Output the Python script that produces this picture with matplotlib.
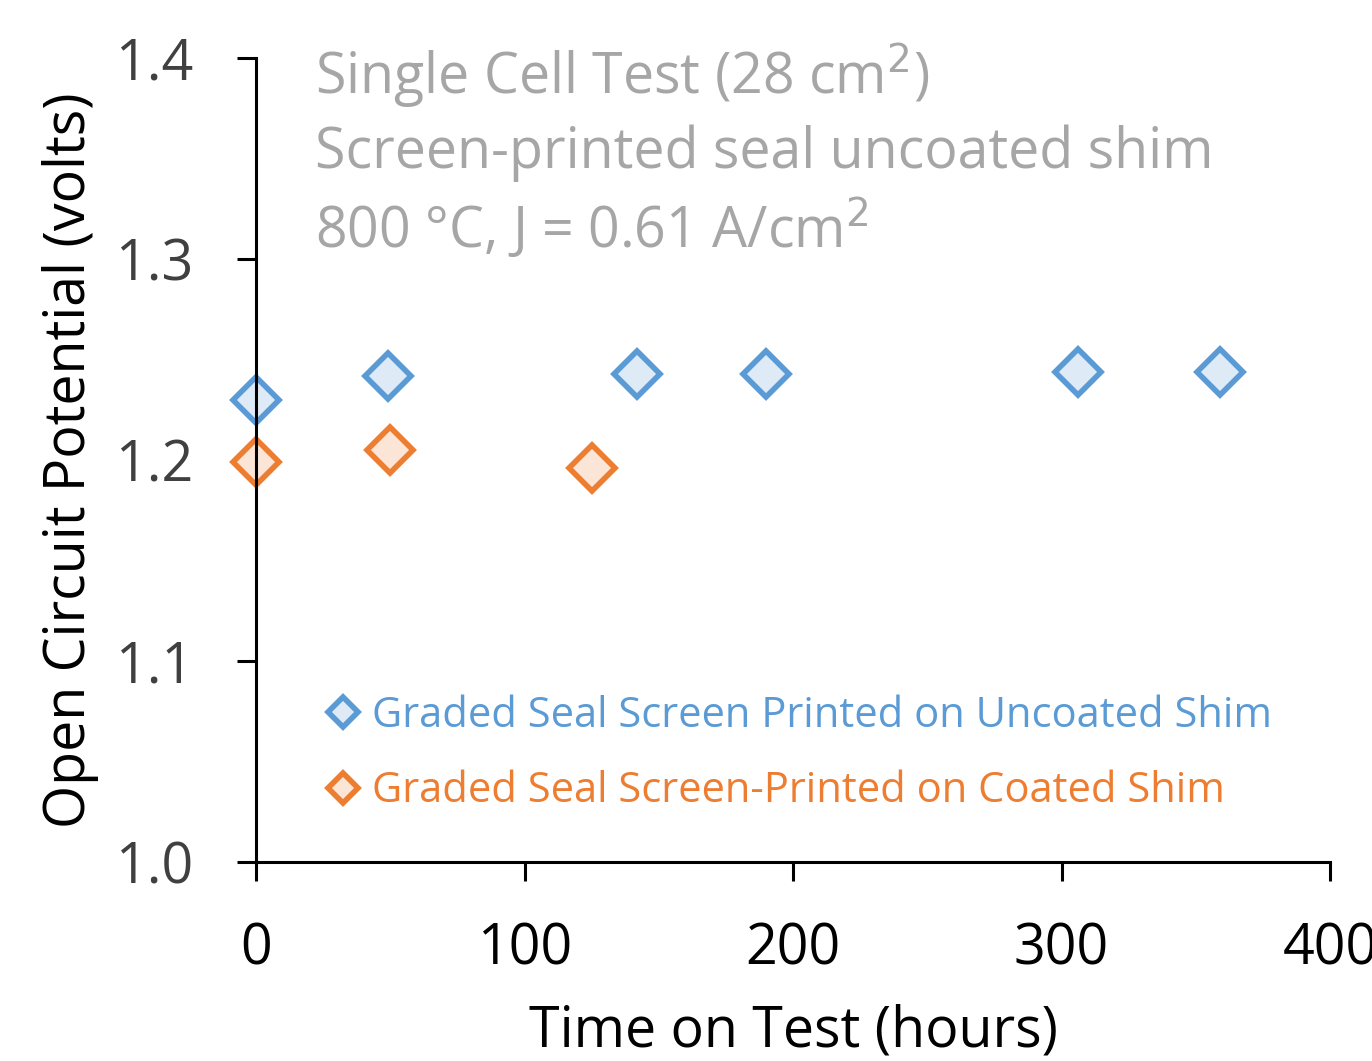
import numpy as np
import matplotlib.pyplot as plt

# Data
uncoated_hours = [0, 49, 142, 190, 306, 359]
uncoated_ocv = [1.230, 1.242, 1.243, 1.243, 1.244, 1.244]
coated_hours = [0, 50, 125]
coated_ocv = [1.199, 1.205, 1.196]

blue = '#5B9BD5'
orange = '#ED7D31'
plt.rcParams['font.family'] = ['Open Sans', 'DejaVu Sans']

fig = plt.figure(figsize=(13.72, 10.61), dpi=100)
ax = fig.add_axes([0.1866, 0.1876, 0.7828, 0.7577])

ax.plot(uncoated_hours, uncoated_ocv, linestyle='none', marker='D', markersize=23,
        markerfacecolor='#DEEBF7', markeredgecolor=blue, markeredgewidth=4,
        clip_on=False, label='Graded Seal Screen Printed on Uncoated Shim')
ax.plot(coated_hours, coated_ocv, linestyle='none', marker='D', markersize=23,
        markerfacecolor='#FBE5D6', markeredgecolor=orange, markeredgewidth=4,
        clip_on=False, label='Graded Seal Screen-Printed on Coated Shim')

ax.set_xlim(0, 400)
ax.set_ylim(1.0, 1.4)
ax.set_xticks([0, 100, 200, 300, 400])
ax.set_yticks([1.0, 1.1, 1.2, 1.3, 1.4])
ax.set_yticklabels(['1.0', '1.1', '1.2', '1.3', '1.4'])

for s in ['top', 'right']:
    ax.spines[s].set_visible(False)
for s in ['left', 'bottom']:
    ax.spines[s].set_linewidth(2.2)
ax.tick_params(axis='both', direction='out', length=14, width=2.2, labelsize=40,
               labelcolor='#404040')
ax.tick_params(axis='x', pad=29, labelcolor='black')
ax.tick_params(axis='y', pad=31)

ax.set_xlabel('Time on Test (hours)', fontsize=40, labelpad=18)
ax.set_ylabel('Open Circuit Potential (volts)', fontsize=40, labelpad=12)

ax.text(0.055, 1.02, 'Single Cell Test (28 cm$^2$)\nScreen-printed seal uncoated shim\n'
        '800 °C, J = 0.61 A/cm$^2$', transform=ax.transAxes, fontsize=40,
        color='#A6A6A6', va='top', ha='left', linespacing=1.3)

leg = ax.legend(loc='lower left', bbox_to_anchor=(0.036, 0.015), frameon=False,
                fontsize=30, markerscale=0.65, handlelength=0.5, handletextpad=0.45,
                labelspacing=0.8, labelcolor=[blue, orange])

fig.savefig('out.png', dpi=100)
